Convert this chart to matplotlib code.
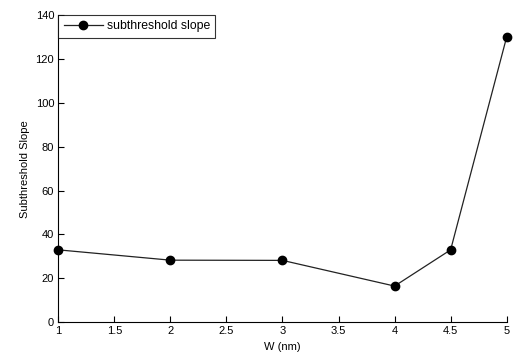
import matplotlib
matplotlib.use("Agg")
import matplotlib.pyplot as plt

# subthreshold slope vs channel width
w_nm = [1, 2, 3, 4, 4.5, 5]
slope = [33, 28.3, 28.2, 16.5, 33, 130]
x_ticks = [1, 1.5, 2, 2.5, 3, 3.5, 4, 4.5, 5]
y_ticks = [0, 20, 40, 60, 80, 100, 120, 140]

plt.rcParams['font.family'] = ['Liberation Sans', 'DejaVu Sans']
plt.rcParams['font.size'] = 8

fig = plt.figure(figsize=(5.32, 3.56), dpi=100)
ax = fig.add_axes([0.1096, 0.0947, 0.8428, 0.8632])

ax.plot(w_nm, slope, color='#222222', lw=0.9, marker='o', markersize=6,
        markerfacecolor='black', markeredgecolor='black',
        label='subthreshold slope', clip_on=False, zorder=3)

ax.set_xlim(1, 5)
ax.set_ylim(0, 140)
ax.set_xticks(x_ticks)
ax.set_xticklabels([f'{t:g}' for t in x_ticks])
ax.set_yticks(y_ticks)
ax.tick_params(direction='in', length=4, width=0.8, pad=3, labelsize=8)

ax.spines['top'].set_visible(False)
ax.spines['right'].set_visible(False)
for s in ('left', 'bottom'):
    ax.spines[s].set_linewidth(0.8)

ax.set_xlabel('W (nm)', fontsize=8, labelpad=4)
ax.set_ylabel('Subthreshold Slope', fontsize=8, labelpad=4)

leg = ax.legend(loc='upper left', fancybox=False, frameon=True,
                borderaxespad=0, handlelength=3.2, borderpad=0.45,
                handletextpad=0.3, fontsize=8.8)
leg.get_frame().set_edgecolor('black')
leg.get_frame().set_linewidth(0.8)

fig.savefig('out.png', dpi=100)
